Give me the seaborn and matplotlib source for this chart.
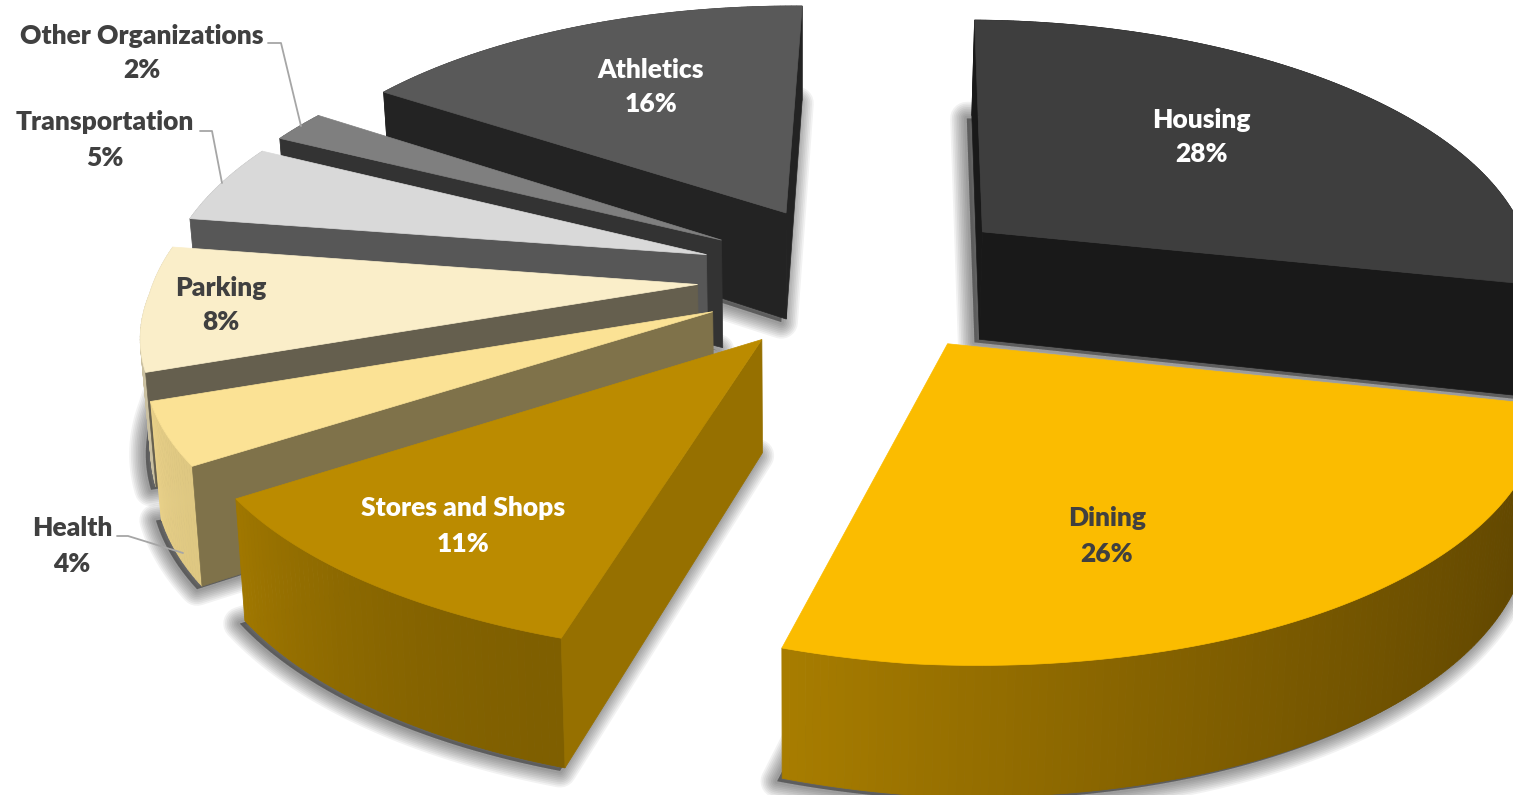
import numpy as np
import matplotlib
matplotlib.use("Agg")
import matplotlib.pyplot as plt
import matplotlib.colors as mc
import seaborn as sns

categories = ["Housing", "Dining", "Stores and Shops", "Health", "Parking",
              "Transportation", "Other Organizations", "Athletics"]
shares = [28, 26, 11, 4, 8, 5, 2, 16]
top_hex = ["#3E3E3E", "#FBBC00", "#BB8B00", "#FBE295", "#FAEEC9", "#D9D9D9", "#7F7F7F", "#595959"]
cut_hex = ["#191919", "#6A4E00", "#967000", "#7F724A", "#655F4E", "#575757", "#333333", "#232323"]
rim_start = ["#191919", "#5F4500", "#7F5F00", "#DFC882", "#C9BFA0", "#ADADAD", "#666666", "#3A3A3A"]
rim_end = ["#2A2A2A", "#A87D00", "#A07700", "#E8D088", "#D5CAA8", "#B5B5B5", "#666666", "#474747"]
label_color = ["#FFFFFF", "#404040", "#FFFFFF", "#404040", "#404040", "#404040", "#404040", "#FFFFFF"]
label_xy = [(1201, 137), (1107, 536), (463, 526), (72, 546), (221, 305), (105, 140), (142, 53), (651, 87)]
leaders = {"Other Organizations": [(268, 43), (281, 43), (301, 126)],
           "Transportation": [(200, 131), (212, 131), (222, 183)],
           "Health": [(117, 536), (128, 536), (183, 553)]}
draw_order = ["Housing", "Athletics", "Other Organizations", "Transportation", "Parking",
              "Health", "Stores and Shops", "Dining"]

# camera of the extruded pie
EXPLODE, ROT = 0.295, 4.4
A, B, CX, CY, G, HORIZON, SKEW = 548.0, 90.0, 859.0, 277.0, 0.1438, -1486.0, -13.0
M, NX, NY, RHO = 0.0056, 800.0, 20000.0, 0.016
BEND_X, BEND_Y = -19.0, -10.0


def project(X, Y, z=0.0):
    w = 1 + G * Y
    south = np.minimum(Y, 0.0)
    sx = (A * X + B * Y + CX) / w + BEND_X * X * south
    sy = (HORIZON * G * Y + SKEW * X + CY) / w + BEND_Y * np.minimum(X, 0.0) * south
    return sx + (NX - sx) * RHO * z, sy + (NY - sy) * M / (w + M) * z


def ground(theta_deg, r, apex):
    t = np.radians(np.asarray(theta_deg, float) + ROT)
    return apex[0] + r * np.sin(t), apex[1] + r * np.cos(t)


sns.set_theme(style="white")
plt.rcParams["font.family"] = ["Lato", "DejaVu Sans"]
top_colors = sns.color_palette(top_hex)
fig = plt.figure(figsize=(15.13, 7.95), dpi=100)
ax = fig.add_axes([0, 0, 1, 1])
ax.set_xlim(0, 1513)
ax.set_ylim(795, 0)
ax.axis("off")

edges = np.concatenate([[0], np.cumsum(shares)]) * 360.0 / sum(shares)
z_order = 1
for name in draw_order:
    i = categories.index(name)
    a0, a1 = edges[i], edges[i + 1]
    mid = 0.5 * (a0 + a1)
    apex = ground(mid, EXPLODE, (0.0, 0.0))
    th = np.linspace(a0, a1, max(8, int((a1 - a0) * 1.5)))
    rx, ry = ground(th, 1.0, apex)
    ax_top = project(rx, ry)
    ax_bot = project(rx, ry, 1.0)
    ap_top = project(*apex)
    ap_bot = project(*apex, 1.0)
    bot_x = np.r_[ap_bot[0], ax_bot[0]]
    bot_y = np.r_[ap_bot[1], ax_bot[1]]
    # soft shadow under the bottom outline
    for lw in np.arange(24, 2, -2.5):
        ax.fill(bot_x - 5, bot_y + 3, fc="black", ec="black", lw=lw, alpha=0.05, zorder=z_order, joinstyle="round")
    z_order += 1
    # outer rim with a gradient
    c0, c1 = np.array(mc.to_rgb(rim_start[i])), np.array(mc.to_rgb(rim_end[i]))
    n = len(th) - 1
    for k in range(n):
        f = min(1.0, k / max(1, n - 1)) ** 1.6
        col = c0 + (c1 - c0) * f
        ax.fill([ax_top[0][k], ax_top[0][k + 1], ax_bot[0][k + 1], ax_bot[0][k]],
                [ax_top[1][k], ax_top[1][k + 1], ax_bot[1][k + 1], ax_bot[1][k]],
                fc=col, ec=col, lw=0.6, zorder=z_order)
    # only the cut faces that look towards the viewer
    for j, sign in ((0, -1), (-1, 1)):
        ex, ey = ax_top[0][j] - ap_top[0], ax_top[1][j] - ap_top[1]
        hx, hy = ap_bot[0] - ap_top[0], ap_bot[1] - ap_top[1]
        if (ex * hy - ey * hx) * sign > 0:
            ax.fill([ap_top[0], ax_top[0][j], ax_bot[0][j], ap_bot[0]],
                    [ap_top[1], ax_top[1][j], ax_bot[1][j], ap_bot[1]],
                    fc=cut_hex[i], ec=cut_hex[i], lw=0.5, zorder=z_order)
    ax.fill(np.r_[ap_top[0], ax_top[0]], np.r_[ap_top[1], ax_top[1]],
            fc=top_colors[i], ec=top_colors[i], lw=0.5, zorder=z_order)
    z_order += 1

for i, name in enumerate(categories):
    ax.text(label_xy[i][0], label_xy[i][1], f"{name}\n{shares[i]}%", ha="center", va="center",
            fontsize=19, fontweight="heavy", color=label_color[i], linespacing=1.55, zorder=100)
for name, pts in leaders.items():
    ax.plot(*zip(*pts), color="#A6A6A6", lw=1.3, zorder=99)

fig.savefig("out.png", dpi=100)
